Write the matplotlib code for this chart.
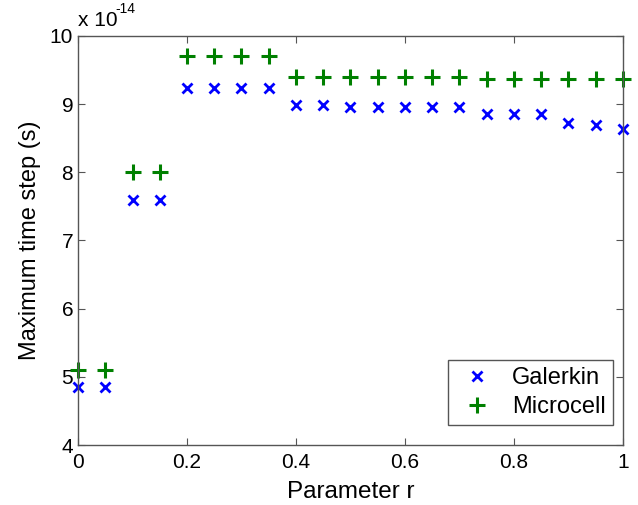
import numpy as np
import matplotlib
matplotlib.use("Agg")
from matplotlib import pyplot as plt

plt.rcParams['font.family'] = ['Liberation Sans', 'DejaVu Sans']

# Data (values in units of 1e-14 s)
r = [0.0, 0.05, 0.1, 0.15, 0.2, 0.25, 0.3, 0.35, 0.4, 0.45, 0.5,
     0.55, 0.6, 0.65, 0.7, 0.75, 0.8, 0.85, 0.9, 0.95, 1.0]
galerkin = [4.85, 4.85, 7.60, 7.60, 9.23, 9.23, 9.23, 9.23, 8.98, 8.98, 8.96,
            8.96, 8.96, 8.96, 8.96, 8.86, 8.86, 8.86, 8.73, 8.70, 8.63]
microcell = [5.10, 5.10, 8.01, 8.01, 9.70, 9.70, 9.70, 9.70, 9.40, 9.40, 9.40,
             9.40, 9.40, 9.40, 9.40, 9.37, 9.37, 9.37, 9.37, 9.37, 9.37]
xticks = [0, 0.2, 0.4, 0.6, 0.8, 1]
xticklabels = ["0", "0.2", "0.4", "0.6", "0.8", "1"]
yticks = [4, 5, 6, 7, 8, 9, 10]

fig = plt.figure(figsize=(6.38, 5.05), dpi=100)
ax = fig.add_axes([0.1223, 0.1188, 0.854, 0.81])

ax.plot(r, galerkin, linestyle='none', marker='x', color='#0000ff',
        markersize=7, markeredgewidth=2, label='Galerkin', clip_on=False)
ax.plot(r, microcell, linestyle='none', marker='+', color='#008000',
        markersize=11, markeredgewidth=2.2, label='Microcell', clip_on=False)

ax.set_xlim(0, 1)
ax.set_ylim(4, 10)
ax.set_xticks(xticks)
ax.set_xticklabels(xticklabels)
ax.set_yticks(yticks)
ax.tick_params(direction='in', length=5, labelsize=15, color='#555555',
               top=True, right=True)
ax.tick_params(axis='x', pad=6)
for s in ax.spines.values():
    s.set_color('#555555')
    s.set_linewidth(1)

ax.set_xlabel('Parameter r', fontsize=17.5, labelpad=6)
ax.set_ylabel('Maximum time step (s)', fontsize=17, labelpad=6)
ax.text(0.0, 1.015, 'x 10', transform=ax.transAxes, fontsize=15,
        ha='left', va='bottom')
ax.text(0.068, 1.05, '-14', transform=ax.transAxes, fontsize=10,
        ha='left', va='bottom')

leg = ax.legend(loc='lower right', bbox_to_anchor=(0.981, 0.048),
                fontsize=17, fancybox=False, framealpha=1,
                edgecolor='#555555', handletextpad=0.5, borderpad=0.3,
                labelspacing=0.3, handlelength=1.9, borderaxespad=0)
leg.get_frame().set_linewidth(1)

fig.savefig('out.png', dpi=100)
